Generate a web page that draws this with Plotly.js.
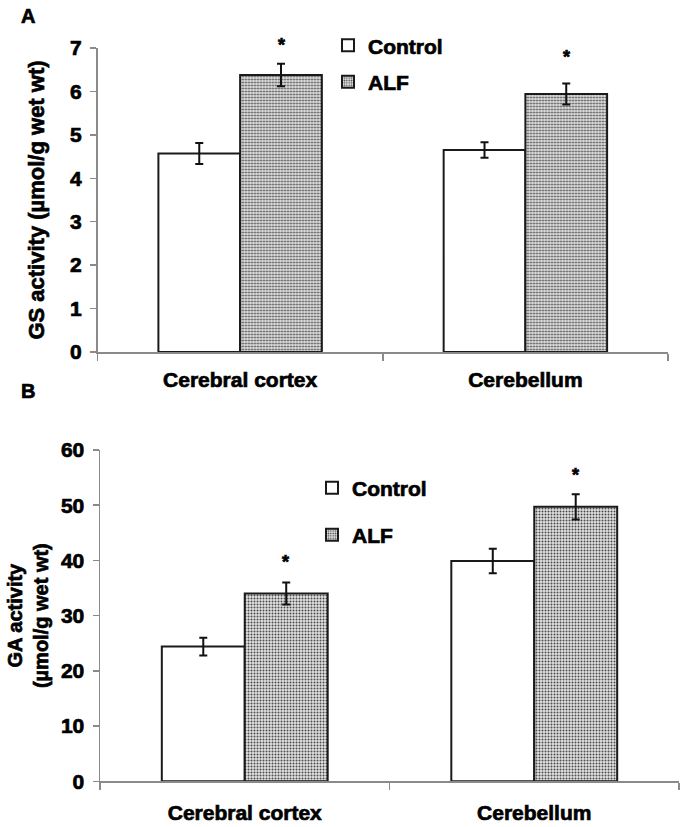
<!DOCTYPE html>
<html>
<head>
<meta charset="utf-8">
<script src="https://cdn.plot.ly/plotly-3.0.1.min.js"></script>
<style>
html,body{margin:0;padding:0;background:#fff;}
#chart{width:686px;height:827px;}
#chart svg text{stroke:#000;stroke-width:0.7px;paint-order:stroke;}
</style>
</head>
<body>
<div id="chart"></div>
<script>
// ---- data ----
const regions = ["Cerebral cortex", "Cerebellum"];
const seriesNames = ["Control", "ALF"];

// Panel A: GS activity (µmol/g wet wt)
const gsControl = [4.57, 4.65];
const gsControlErr = [0.24, 0.18];
const gsALF = [6.38, 5.94];
const gsALFErr = [0.26, 0.24];

// Panel B: GA activity (µmol/g wet wt)
const gaControl = [24.4, 39.9];
const gaControlErr = [1.6, 2.2];
const gaALF = [34.0, 49.7];
const gaALFErr = [2.0, 2.3];

const gsTicks = [0, 1, 2, 3, 4, 5, 6, 7];
const gaTicks = [0, 10, 20, 30, 40, 50, 60];

// ---- styles ----
const FONT = "Liberation Sans, Arial, sans-serif";
const axisGray = "#8a8a8a";
const outline = {color: "#1a1a1a", width: 2};
const errStyle = {type: "data", visible: true, color: "#111", thickness: 2, width: 4};
const alfPattern = {shape: ".", bgcolor: "#e2e2e2", fgcolor: "#4a4a4a", size: 3, solidity: 0.35, fillmode: "replace"};
const B = s => "<b>" + s + "</b>";

function ctrlTrace(y, err, xa, ya, leg) {
  return {type: "bar", name: B(seriesNames[0]), x: regions, y: y, xaxis: xa, yaxis: ya, legend: leg,
    marker: {color: "#ffffff", line: outline},
    error_y: Object.assign({array: err}, errStyle), hoverinfo: "y"};
}
function alfTrace(y, err, xa, ya, leg) {
  return {type: "bar", name: B(seriesNames[1]), x: regions, y: y, xaxis: xa, yaxis: ya, legend: leg,
    marker: {color: "#e2e2e2", line: outline, pattern: alfPattern},
    error_y: Object.assign({array: err}, errStyle), hoverinfo: "y"};
}

const data = [
  ctrlTrace(gsControl, gsControlErr, "x", "y", "legend"),
  alfTrace(gsALF, gsALFErr, "x", "y", "legend2"),
  ctrlTrace(gaControl, gaControlErr, "x2", "y2", "legend3"),
  alfTrace(gaALF, gaALFErr, "x2", "y2", "legend4")
];

const W = 686, H = 827;
const px = v => v / W;
const py = v => (H - v) / H;

function xAxis(domain, anchor, standoff) {
  return {domain: domain, anchor: anchor, type: "category", showline: true, linecolor: axisGray, linewidth: 1.5,
    tickmode: "array", tickvals: regions, ticktext: regions.map(B),
    ticks: "outside", tickson: "boundaries", ticklen: 7, tickcolor: axisGray, tickwidth: 1.5,
    showgrid: false, zeroline: false, ticklabelstandoff: standoff,
    tickfont: {family: FONT, size: 21, color: "#000", weight: 700}, fixedrange: true};
}
function yAxis(domain, anchor, range, ticks, titleText, titleSize, standoff) {
  return {domain: domain, anchor: anchor, range: range, tickmode: "array", tickvals: ticks, ticktext: ticks.map(t => B(String(t))),
    showline: true, linecolor: axisGray, linewidth: 1.5, ticks: "outside", ticklen: 6, tickcolor: axisGray, tickwidth: 1.5,
    showgrid: false, zeroline: false, ticklabelstandoff: 4,
    tickfont: {family: FONT, size: 21, color: "#000", weight: 700},
    title: {text: titleText, standoff: standoff, font: {family: FONT, size: titleSize, color: "#000", weight: 700}},
    fixedrange: true};
}

function legendAt(x, y) {
  return {x: px(x), y: py(y), xanchor: "left", yanchor: "middle", bgcolor: "rgba(0,0,0,0)", borderwidth: 0,
    font: {family: FONT, size: 21, color: "#000", weight: 700}, itemclick: false, itemdoubleclick: false};
}

// significance asterisks sit just above the ALF error bars
function star(xa, ya, cat, yv, shift) {
  return {xref: xa, yref: ya, x: cat, y: yv, xshift: 41, yshift: shift, text: B("*"), showarrow: false,
    font: {family: FONT, size: 18, color: "#000", weight: 700}, yanchor: "middle"};
}

const annotations = [
  {xref: "paper", yref: "paper", x: px(28), y: py(16), text: B("A"), showarrow: false, xanchor: "center", yanchor: "middle",
   font: {family: FONT, size: 20, color: "#000", weight: 700}},
  {xref: "paper", yref: "paper", x: px(28), y: py(391), text: B("B"), showarrow: false, xanchor: "center", yanchor: "middle",
   font: {family: FONT, size: 20, color: "#000", weight: 700}},
  star("x", "y", regions[0], gsALF[0] + gsALFErr[0], 19),
  star("x", "y", regions[1], gsALF[1] + gsALFErr[1], 27),
  star("x2", "y2", regions[0], gaALF[0] + gaALFErr[0], 21),
  star("x2", "y2", regions[1], gaALF[1] + gaALFErr[1], 19)
];

const layout = {
  width: W, height: H,
  margin: {l: 0, r: 0, t: 0, b: 0},
  paper_bgcolor: "#fff", plot_bgcolor: "#fff",
  barmode: "group", bargap: 0.427, bargroupgap: 0,
  font: {family: FONT, color: "#000"},
  xaxis: xAxis([px(97.5), px(668)], "y", 8),
  yaxis: yAxis([py(352), py(48)], "x", [0, 7], gsTicks, B("GS activity (µmol/g wet wt)"), 22, 19),
  xaxis2: xAxis([px(100), px(679)], "y2", 12),
  yaxis2: yAxis([py(781.3), py(450)], "x2", [0, 60], gaTicks, B("GA activity") + "<br>" + B("(µmol/g wet wt)"), 20, 7),
  showlegend: true,
  legend: legendAt(328, 45.7),
  legend2: legendAt(328, 82),
  legend3: legendAt(312, 488),
  legend4: legendAt(312, 535),
  annotations: annotations
};

Plotly.newPlot("chart", data, layout, {displayModeBar: false, staticPlot: true});
</script>
</body>
</html>
